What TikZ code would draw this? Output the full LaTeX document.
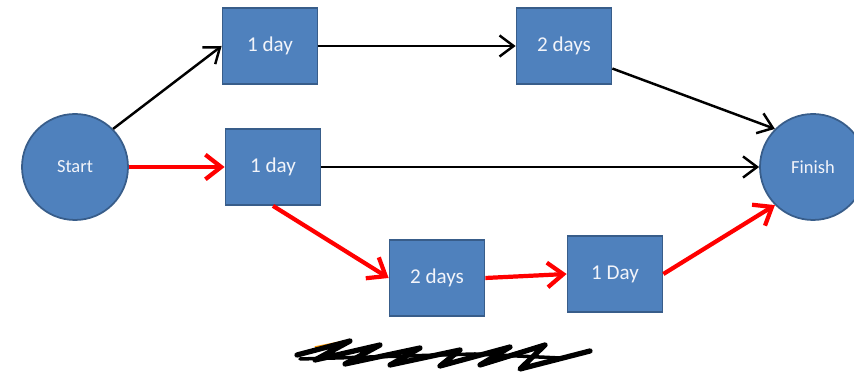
\documentclass[tikz,border=0pt]{standalone}
\usepackage{fontspec}
\setmainfont{Carlito}
\usetikzlibrary{arrows.meta}

\definecolor{taskblue}{HTML}{4F81BD}
\definecolor{taskedge}{HTML}{385D8A}
\definecolor{critred}{HTML}{FF0000}
\definecolor{labelwhite}{HTML}{F2F4FA}

\begin{document}
\begin{tikzpicture}[
        event/.style={circle, draw=taskedge, fill=taskblue, line width=1pt, minimum size=2.12cm, inner sep=0pt, text=labelwhite, font=\fontsize{10.5}{12}\selectfont},
        task/.style={rectangle, draw=taskedge, fill=taskblue, line width=1pt, minimum width=1.9cm, minimum height=1.52cm, inner sep=0pt, text=labelwhite, font=\fontsize{12}{14}\selectfont},
        arrow/.style={-{Straight Barb[length=8pt, width=12pt, line width=1.4pt]}, line width=1.4pt, black},
        critical/.style={-{Straight Barb[length=9pt, width=14pt, line width=2.4pt]}, line width=2.4pt, critred}
    ]
    \useasboundingbox (0,0) rectangle (17.08,7.6);
    \clip (0,0) rectangle (17.08,7.6);

    % Events
    \node[event] (start) at (1.50, 4.26) {Start};
    \node[event] (finish) at (16.26, 4.26) {Finish};

    % Top path
    \node[task] (topA) at (5.40, 6.68) {1 day};
    \node[task] (topB) at (11.28, 6.68) {2 days};

    % Middle path
    \node[task] (mid) at (5.46, 4.26) {1 day};

    % Lower path
    \node[task] (lowA) at (8.74, 2.04) {2 days};
    \node[task] (lowB) at (12.30, 2.12) {1 Day};

    % Non-critical arrows
    \draw[arrow] (start.45) -- (topA.west);
    \draw[arrow] (topA.east) -- (topB.west);
    \draw[arrow] (topB.-25) -- (finish.135);
    \draw[arrow] (mid.east) -- (finish.west);

    % Critical path
    \draw[critical] (start.east) -- (mid.west);
    \draw[critical] (mid.south) -- (lowA.west);
    \draw[critical] (lowA.east) -- (lowB.west);
    \draw[critical] (lowB.east) -- (finish.-135);

    % Scribbled-out caption
    \draw[line width=2pt, orange!80!yellow] (6.3,0.64) -- (6.9,0.76);
    \draw[black, line width=3pt, line join=round, line cap=round]
        (5.94,0.50) -- (7.0,0.78) -- (6.3,0.40) -- (7.6,0.70) -- (6.9,0.32)
        -- (8.4,0.64) -- (7.8,0.30) -- (9.2,0.60) -- (8.8,0.28) -- (10.2,0.66)
        -- (9.6,0.30) -- (10.9,0.70) -- (10.4,0.22) -- (11.8,0.58);
    \draw[black, line width=2pt, line cap=round]
        (6.0,0.42) -- (9.5,0.52) -- (11.2,0.44);

\end{tikzpicture}
\end{document}
